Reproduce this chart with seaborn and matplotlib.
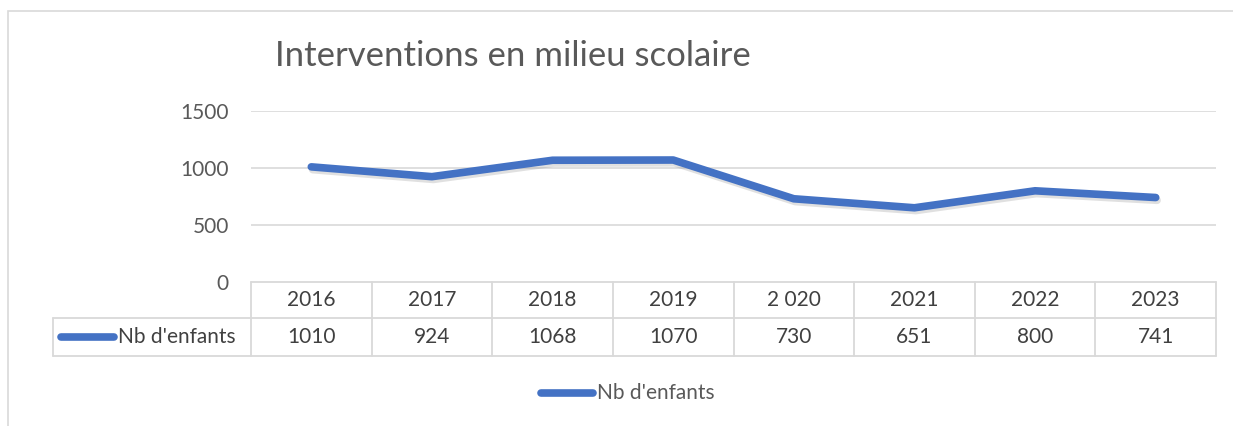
import matplotlib
matplotlib.use("Agg")
import matplotlib.pyplot as plt
import matplotlib.patheffects as pe
from matplotlib.lines import Line2D
from matplotlib.patches import Rectangle
import seaborn as sns

years = ["2016", "2017", "2018", "2019", "2 020", "2021", "2022", "2023"]
nb_enfants = [1010, 924, 1068, 1070, 730, 651, 800, 741]
series_name = "Nb d'enfants"
title = "Interventions en milieu scolaire"
y_ticks = [0, 500, 1000, 1500]

blue = "#4472C4"
grey_txt = "#595959"
dark_txt = "#404040"
grid_col = "#D9D9D9"

sns.set_theme(style="white")
plt.rcParams["font.family"] = ["Lato", "DejaVu Sans"]

W, H = 1233, 426
fig = plt.figure(figsize=(W / 100, H / 100), dpi=100)

# outer chart border
fig.patches.append(Rectangle((8 / W, -0.1), 1.2, 1 - 11 / H + 0.1, transform=fig.transFigure,
                             fill=False, edgecolor=grid_col, linewidth=1.2))

ax = fig.add_axes([251 / W, 1 - 282 / H, (1216 - 251) / W, 171 / H])
x = list(range(len(years)))
shadow = [pe.SimpleLineShadow(offset=(1, -2), shadow_color="#9a9a9a", alpha=0.3),
          pe.Normal()]
sns.lineplot(x=x, y=nb_enfants, ax=ax, color=blue, linewidth=5.5,
             solid_capstyle="round", solid_joinstyle="round", path_effects=shadow)

ax.set_xlim(-0.5, len(years) - 0.5)
ax.set_ylim(0, 1500)
ax.set_yticks(y_ticks)
ax.set_xticks([])
ax.tick_params(axis="y", length=0, pad=16, labelsize=15, labelcolor=grey_txt)
for t in y_ticks[1:]:
    ax.axhline(t, color=grid_col, linewidth=1.2, zorder=0)
for s in ax.spines.values():
    s.set_visible(False)

fig.text(275 / W, 1 - 56 / H, title, fontsize=25, color=grey_txt, ha="left", va="center")

# data table under the plot
n = len(years)
r1 = -36 / 171
r2 = -74 / 171
lab_left = (53 - 251) / 965
tb = ax.transAxes
kw = dict(color=grid_col, linewidth=1.3, transform=tb, clip_on=False)
ax.add_line(Line2D([0, 1], [0, 0], **kw))
ax.add_line(Line2D([lab_left, 1], [r1, r1], **kw))
ax.add_line(Line2D([lab_left, 1], [r2, r2], **kw))
ax.add_line(Line2D([lab_left, lab_left], [r1, r2], **kw))
for i in range(n + 1):
    ax.add_line(Line2D([i / n, i / n], [0, r2], **kw))
for i, (yr, v) in enumerate(zip(years, nb_enfants)):
    cx = (i + 0.5) / n
    ax.text(cx, r1 / 2, yr, transform=tb, ha="center", va="center", fontsize=15, color=dark_txt)
    ax.text(cx, (r1 + r2) / 2, str(v), transform=tb, ha="center", va="center", fontsize=15, color=dark_txt)

# legend key inside the table row label
ry = (r1 + r2) / 2
ax.add_line(Line2D([(61 - 251) / 965, (114 - 251) / 965], [ry, ry], color=blue, linewidth=5.5,
                   solid_capstyle="round", transform=tb, clip_on=False))
ax.text((118 - 251) / 965, ry, series_name, transform=tb, ha="left", va="center",
        fontsize=15, color=dark_txt)

# bottom legend
ly = 1 - 393 / H
fig.lines.append(Line2D([541 / W, 593 / W], [ly, ly], color=blue, linewidth=5.5,
                        solid_capstyle="round", transform=fig.transFigure))
fig.text(597 / W, ly, series_name, ha="left", va="center", fontsize=15, color=grey_txt)

fig.savefig("out.png", dpi=100)
